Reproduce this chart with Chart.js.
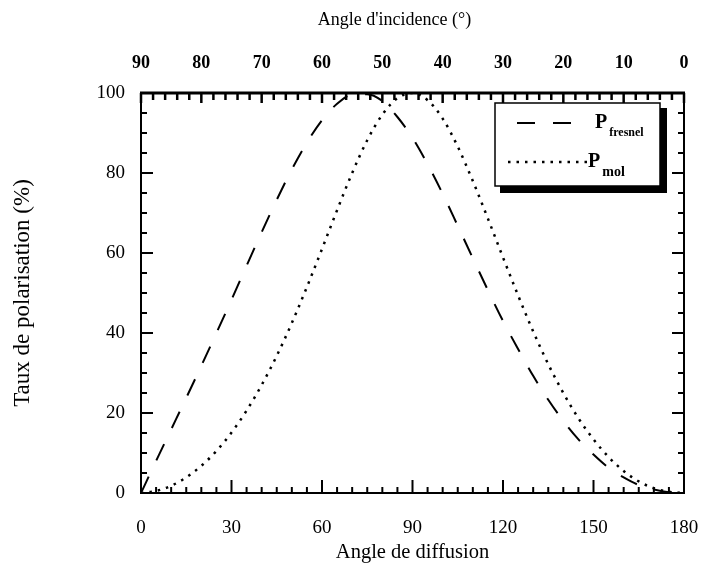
<!DOCTYPE html>
<html><head><meta charset="utf-8">
<style>html,body{margin:0;padding:0;background:#fff}#wrap{width:702px;height:578px}</style>
<script src="https://cdn.jsdelivr.net/npm/chart.js@4"></script>
</head><body><div id="wrap"><canvas id="c" width="702" height="578"></canvas></div>
<script>
// Diffusion angle (degrees)
const angles = [0,5,10,15,20,25,30,35,40,45,50,55,60,65,70,75,80,85,90,95,100,105,110,115,120,125,130,135,140,145,150,155,160,165,170,175,180];
// Polarisation (%)
const pFresnel = [0,8.0,15.9,23.8,31.8,40.0,48.3,56.8,65.2,73.3,80.9,87.6,93.2,97.3,99.6,99.7,98.0,94.0,88.8,82.2,74.8,66.8,58.7,50.7,43.0,36.0,29.3,23.3,18.0,13.4,9.6,6.3,3.9,2.0,0.9,0.2,0];
const pMol = [0,0.5,1.8,3.9,6.8,10.5,15.1,20.6,27.0,34.3,42.5,51.5,61.0,70.7,80.0,88.2,94.6,98.7,100,98.2,93.6,86.6,78.0,68.6,58.9,49.4,40.4,32.2,25.0,18.7,13.4,9.0,5.5,2.9,1.2,0.3,0];
const bottomTicks = [0,30,60,90,120,150,180];
const topTicks = [90,80,70,60,50,40,30,20,10,0];
const yTicks = [0,20,40,60,80,100];
const legendLabels = [{main:'P', sub:'fresnel'}, {main:'P', sub:'mol'}];

const SERIF = "'Liberation Serif', 'DejaVu Serif', serif";

const decor = {
  id: 'decor',
  afterDraw(chart) {
    const {ctx, chartArea: a, scales} = chart;
    ctx.save();
    ctx.strokeStyle = '#000';
    ctx.fillStyle = '#000';
    const line = (x1, y1, x2, y2, w) => { ctx.lineWidth = w; ctx.beginPath(); ctx.moveTo(x1, y1); ctx.lineTo(x2, y2); ctx.stroke(); };
    // frame
    ctx.lineWidth = 2;
    ctx.strokeRect(a.left, a.top, a.right - a.left, a.bottom - a.top);
    line(a.left - 1, a.top, a.right + 1, a.top, 3);
    // bottom ticks (inward)
    for (let v = 0; v <= 180; v += 5) {
      const x = scales.x.getPixelForValue(v);
      line(x, a.bottom, x, a.bottom - (v % 30 === 0 ? 13 : 6), 2);
    }
    // top ticks (incidence)
    for (let v = 0; v <= 90; v += 2) {
      const x = scales.x2.getPixelForValue(v);
      line(x, a.top, x, a.top + (v % 10 === 0 ? 10 : 7), 2.5);
    }
    // left & right ticks
    for (let v = 0; v <= 100; v += 5) {
      const y = scales.y.getPixelForValue(v);
      const L = v % 20 === 0 ? 12 : 6;
      line(a.left, y, a.left + L, y, 2);
      line(a.right, y, a.right - L, y, 2);
    }
    // top title
    ctx.font = "18px " + SERIF;
    ctx.textAlign = 'center';
    ctx.textBaseline = 'middle';
    ctx.fillText("Angle d'incidence (°)", (a.left + a.right) / 2 - 18, 20);

    // legend
    const bx = a.right - 189, by = a.top + 10, bw = 165, bh = 83;
    ctx.fillRect(bx + 5, by + 5, bw + 2, bh + 2);
    ctx.fillStyle = '#fff';
    ctx.fillRect(bx, by, bw, bh);
    ctx.lineWidth = 1.5;
    ctx.strokeRect(bx, by, bw, bh);
    ctx.fillStyle = '#000';
    const rows = [by + 20, by + 59];
    chart.data.datasets.forEach((ds, i) => {
      const y = rows[i];
      ctx.save();
      ctx.setLineDash(ds.borderDash);
      ctx.lineWidth = ds.borderWidth;
      const x0 = i === 0 ? bx + 22 : bx + 13;
      ctx.beginPath(); ctx.moveTo(x0, y); ctx.lineTo(bx + 94, y); ctx.stroke();
      ctx.restore();
      ctx.textAlign = 'left';
      ctx.textBaseline = 'middle';
      const px = i === 0 ? bx + 100 : bx + 93;
      ctx.font = "bold 20px " + SERIF;
      ctx.fillText(legendLabels[i].main, px, y);
      const w = ctx.measureText(legendLabels[i].main).width;
      ctx.font = (i === 0 ? "bold 12px " : "bold 14px ") + SERIF;
      ctx.fillText(legendLabels[i].sub, px + w + 2, y + 10);
    });
    ctx.restore();
  }
};

const pts = (arr) => angles.map((a, i) => ({x: a, y: arr[i]}));
const noPad = s => { s.paddingLeft = 0; s.paddingRight = 0; };

new Chart(document.getElementById('c'), {
  type: 'line',
  data: {
    datasets: [
      {label: 'P fresnel', data: pts(pFresnel), borderColor: '#000', borderWidth: 2, borderDash: [18, 18],
       pointRadius: 0, cubicInterpolationMode: 'monotone', fill: false, xAxisID: 'x', yAxisID: 'y'},
      {label: 'P mol', data: pts(pMol), borderColor: '#000', borderWidth: 2.5, borderDash: [2.5, 6],
       pointRadius: 0, cubicInterpolationMode: 'monotone', fill: false, xAxisID: 'x', yAxisID: 'y'}
    ]
  },
  options: {
    responsive: false,
    animation: false,
    layout: {padding: 0},
    plugins: {legend: {display: false}, tooltip: {enabled: false}, title: {display: false}},
    scales: {
      x: {
        type: 'linear', position: 'bottom', min: 0, max: 180,
        afterBuildTicks: s => { s.ticks = bottomTicks.map(v => ({value: v})); },
        afterFit: s => { s.height = 578 - 493; noPad(s); },
        grid: {display: false, drawTicks: false}, border: {display: false},
        ticks: {color: '#000', font: {family: SERIF, size: 19}, padding: 24, maxRotation: 0, autoSkip: false},
        title: {display: true, text: 'Angle de diffusion', color: '#000', font: {family: SERIF, size: 20.5}, padding: {top: 0, bottom: 13}}
      },
      x2: {
        type: 'linear', position: 'top', min: 0, max: 90, reverse: true,
        afterBuildTicks: s => { s.ticks = topTicks.map(v => ({value: v})); },
        afterFit: s => { s.height = 93; noPad(s); },
        grid: {display: false, drawTicks: false}, border: {display: false},
        ticks: {color: '#000', font: {family: SERIF, size: 18, weight: 'bold'}, padding: 19, maxRotation: 0, autoSkip: false}
      },
      y: {
        type: 'linear', position: 'left', min: 0, max: 100,
        afterBuildTicks: s => { s.ticks = yTicks.map(v => ({value: v})); },
        afterFit: s => { s.width = 141; },
        grid: {display: false, drawTicks: false}, border: {display: false},
        ticks: {color: '#000', font: {family: SERIF, size: 19}, padding: 16, autoSkip: false},
        title: {display: true, text: 'Taux de polarisation (%)', color: '#000', font: {family: SERIF, size: 23}, padding: {top: 9, bottom: 0}}
      },
      y2: {
        type: 'linear', position: 'right', min: 0, max: 100,
        afterFit: s => { s.width = 702 - 684; },
        grid: {display: false, drawTicks: false}, border: {display: false},
        ticks: {display: false}
      }
    }
  },
  plugins: [decor]
});
</script>
</body></html>
